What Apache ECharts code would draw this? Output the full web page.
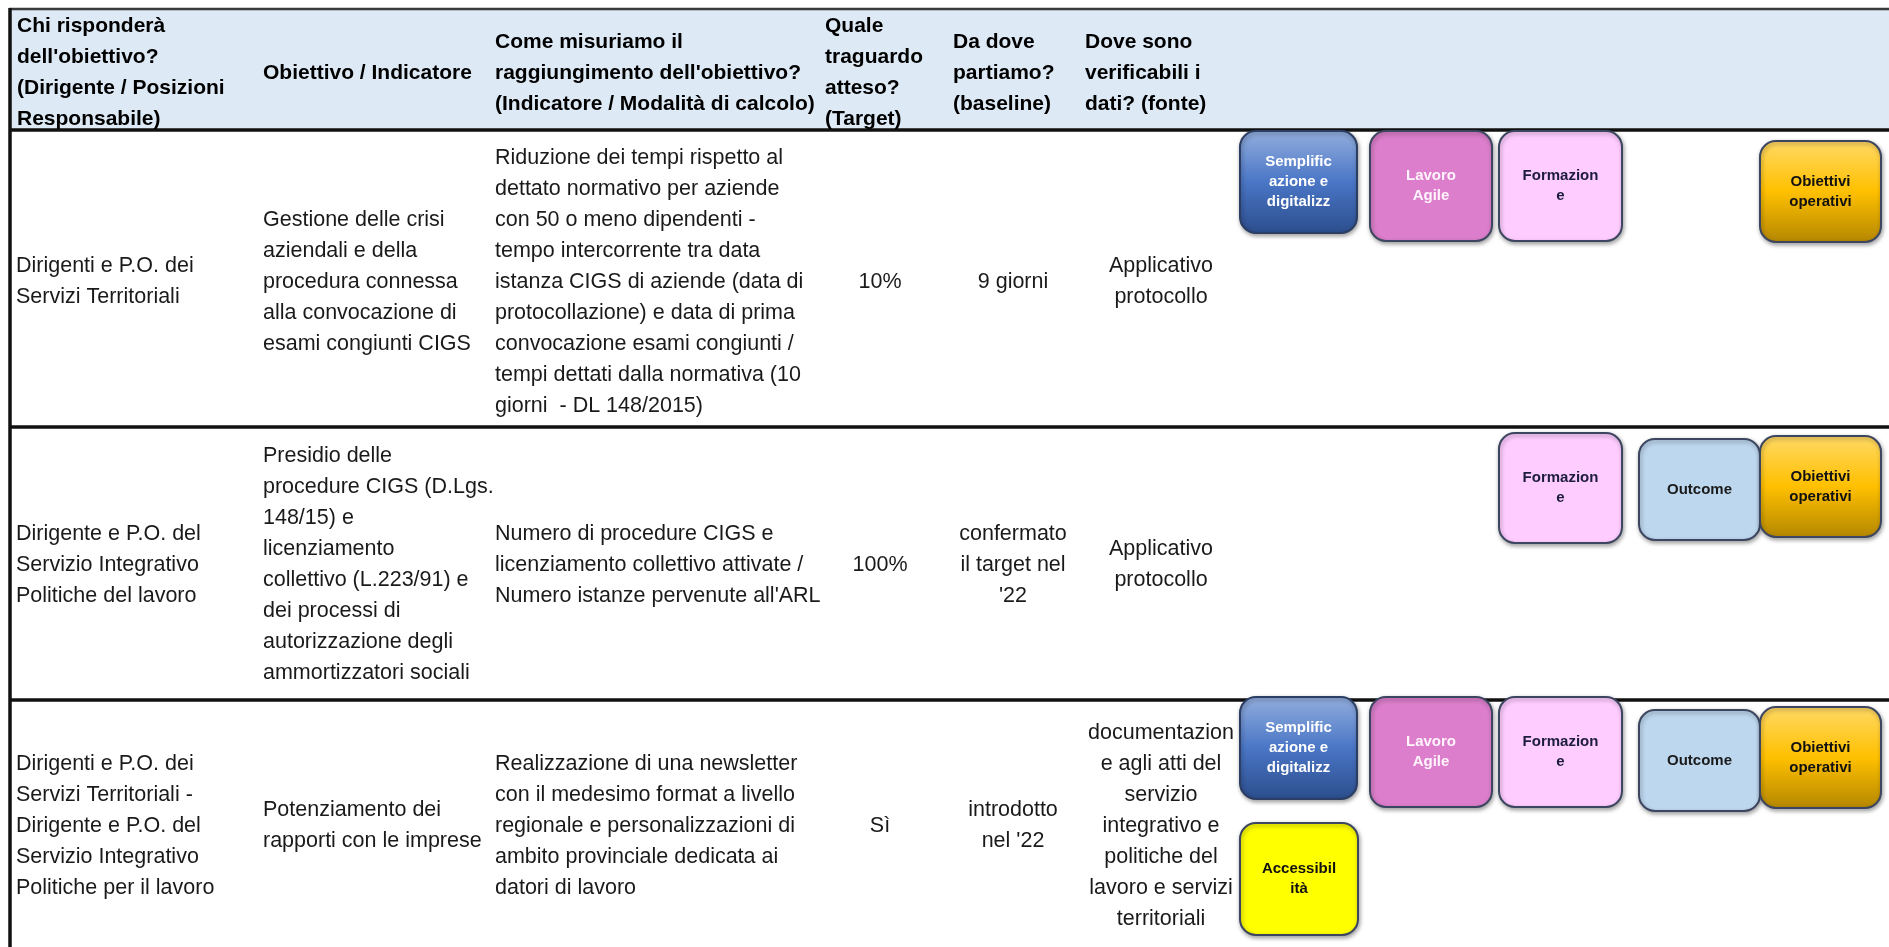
<!DOCTYPE html>
<html>
<head>
<meta charset="utf-8">
<script src="https://cdn.jsdelivr.net/npm/echarts@6/dist/echarts.min.js"></script>
<style>html,body{margin:0;padding:0;background:#fff;overflow:hidden}#c{width:1889px;height:947px}</style>
</head>
<body>
<div id="c"></div>
<script>
// ---------- DATA ----------
const headers = [
  "Chi risponderà\ndell'obiettivo?\n(Dirigente / Posizioni\nResponsabile)",
  "Obiettivo / Indicatore",
  "Come misuriamo il\nraggiungimento dell'obiettivo?\n(Indicatore / Modalità di calcolo)",
  "Quale\ntraguardo\natteso?\n(Target)",
  "Da dove\npartiamo?\n(baseline)",
  "Dove sono\nverificabili i\ndati? (fonte)"
];
const responsabili = [
  "Dirigenti e P.O. dei\nServizi Territoriali",
  "Dirigente e P.O. del\nServizio Integrativo\nPolitiche del lavoro",
  "Dirigenti e P.O. dei\nServizi Territoriali -\nDirigente e P.O. del\nServizio Integrativo\nPolitiche per il lavoro"
];
const obiettivi = [
  "Gestione delle crisi\naziendali e della\nprocedura connessa\nalla convocazione di\nesami congiunti CIGS",
  "Presidio delle\nprocedure CIGS (D.Lgs.\n148/15) e\nlicenziamento\ncollettivo (L.223/91) e\ndei processi di\nautorizzazione degli\nammortizzatori sociali",
  "Potenziamento dei\nrapporti con le imprese"
];
const indicatori = [
  "Riduzione dei tempi rispetto al\ndettato normativo per aziende\ncon 50 o meno dipendenti -\ntempo intercorrente tra data\nistanza CIGS di aziende (data di\nprotocollazione) e data di prima\nconvocazione esami congiunti /\ntempi dettati dalla normativa (10\ngiorni  - DL 148/2015)",
  "Numero di procedure CIGS e\nlicenziamento collettivo attivate /\nNumero istanze pervenute all'ARL",
  "Realizzazione di una newsletter\ncon il medesimo format a livello\nregionale e personalizzazioni di\nambito provinciale dedicata ai\ndatori di lavoro"
];
const target = ["10%", "100%", "Sì"];
const baseline = ["9 giorni", "confermato\nil target nel\n'22", "introdotto\nnel '22"];
const fonte = [
  "Applicativo\nprotocollo",
  "Applicativo\nprotocollo",
  "documentazion\ne agli atti del\nservizio\nintegrativo e\npolitiche del\nlavoro e servizi\nterritoriali"
];
const tagNames = ["Semplificazione", "Lavoro Agile", "Formazione", "Outcome", "Obiettivi operativi", "Accessibilità"];
const tagLabels = ["Semplific\nazione e\ndigitalizz", "Lavoro\nAgile", "Formazion\ne", "Outcome", "Obiettivi\noperativi", "Accessibil\nità"];
const ambiti = [
  ["Semplificazione", "Lavoro Agile", "Formazione", "Obiettivi operativi"],
  ["Formazione", "Outcome", "Obiettivi operativi"],
  ["Semplificazione", "Lavoro Agile", "Formazione", "Outcome", "Obiettivi operativi", "Accessibilità"]
];

// ---------- LAYOUT / STYLE ----------
const W = 1889, H = 947;
const FONT = "'Liberation Sans', Arial, sans-serif";
const L = {
  left: 10,
  rowEdges: [9, 130, 427, 700, 947],
  rowCenters: [73, 282, 565, 826],
  headerX: [17, 263, 495, 825, 953, 1085],
  bodyX: [12, 263, 495, 880, 1013, 1161],
  bodyAlign: ['left', 'left', 'left', 'center', 'center', 'center'],
  headFontSize: 21,
  bodyFontSize: 21.5,
  lineHeight: 31
};
const tagBox = {
  "Semplificazione": {x: 1240, w: 117, h: 102},
  "Lavoro Agile": {x: 1370, w: 122, h: 110},
  "Formazione": {x: 1499, w: 123, h: 110},
  "Outcome": {x: 1639, w: 121, h: 101},
  "Obiettivi operativi": {x: 1760, w: 121, h: 101},
  "Accessibilità": {x: 1240, w: 118, h: 112}
};
const tagTop = [
  {"Semplificazione": 131, "Lavoro Agile": 131, "Formazione": 131, "Obiettivi operativi": 141},
  {"Formazione": 433, "Outcome": 439, "Obiettivi operativi": 436},
  {"Semplificazione": 697, "Lavoro Agile": 697, "Formazione": 697, "Outcome": 710, "Obiettivi operativi": 707, "Accessibilità": 823}
];
function lin(stops) {
  return {type: 'linear', x: 0, y: 0, x2: 0, y2: 1, global: false,
    colorStops: stops.map(s => ({offset: s[0], color: s[1]}))};
}
const tagStyle = {
  "Semplificazione": {fill: lin([[0, '#93aedd'], [0.5, '#4a76c6'], [1, '#2b4d8c']]), text: '#ffffff', stroke: '#2c3e63'},
  "Lavoro Agile": {fill: '#dc7ecb', text: '#fff4fc', stroke: '#3d4660'},
  "Formazione": {fill: '#ffccff', text: '#1c1c3c', stroke: '#3d4660'},
  "Outcome": {fill: '#bdd7ee', text: '#1a1a1a', stroke: '#3d4660'},
  "Obiettivi operativi": {fill: lin([[0, '#ffd966'], [0.5, '#ffc000'], [1, '#b38600']]), text: '#111111', stroke: '#3d4660'},
  "Accessibilità": {fill: '#ffff00', text: '#111111', stroke: '#3d4660'}
};

// ---------- BUILD ----------
const columns = [responsabili, obiettivi, indicatori, target, baseline, fonte];
function cellText(r, c) { return r === 0 ? headers[c] : columns[c][r - 1]; }
const cellData = [];
for (let c = 0; c < headers.length; c++) cellData.push([0, c]);
for (let r = 0; r < responsabili.length; r++)
  for (let c = 0; c < columns.length; c++) cellData.push([r + 1, c]);
const tagData = [];
ambiti.forEach((list, r) => list.forEach(n => tagData.push([r, tagNames.indexOf(n)])));

const chart = echarts.init(document.getElementById('c'), null, {renderer: 'canvas', width: W, height: H});
chart.setOption({
  animation: false,
  backgroundColor: '#ffffff',
  grid: {left: 0, right: 0, top: 0, bottom: 0},
  xAxis: {type: 'value', min: 0, max: W, show: false},
  yAxis: {type: 'value', min: 0, max: H, inverse: true, show: false},
  series: [
    {
      type: 'custom', z: 1, silent: true,
      data: [[0, 0]],
      renderItem(params, api) {
        const e = L.rowEdges;
        const a = api.coord([L.left, e[0]]), b = api.coord([W, e[1]]);
        const children = [{type: 'rect', shape: {x: a[0], y: a[1], width: b[0] - a[0], height: b[1] - a[1]},
          style: {fill: '#dde9f5'}}];
        e.slice(0, 4).forEach((y, i) => {
          const p = api.coord([L.left - 1, y]), q = api.coord([W, y]);
          children.push({type: 'line', shape: {x1: p[0], y1: p[1], x2: q[0], y2: q[1]},
            style: {stroke: i === 0 ? '#3a3a3a' : '#111111', lineWidth: i === 0 ? 2.5 : 3.5}});
        });
        const l1 = api.coord([L.left, e[0] - 1]), l2 = api.coord([L.left, H]);
        children.push({type: 'line', shape: {x1: l1[0], y1: l1[1], x2: l2[0], y2: l2[1]},
          style: {stroke: '#111111', lineWidth: 3.5}});
        return {type: 'group', children};
      }
    },
    {
      type: 'custom', z: 2, silent: true,
      data: cellData,
      renderItem(params, api) {
        const r = api.value(0), c = api.value(1);
        const head = r === 0;
        const p = api.coord([head ? L.headerX[c] : L.bodyX[c] + (c === 0 ? 4 : 0), L.rowCenters[r]]);
        return {type: 'text', x: p[0], y: p[1], style: {
          text: cellText(r, c), fill: head ? '#000000' : '#1a1a1a',
          fontSize: head ? L.headFontSize : L.bodyFontSize, fontFamily: FONT, fontWeight: head ? 'bold' : 'normal',
          lineHeight: L.lineHeight, align: head ? 'left' : L.bodyAlign[c], verticalAlign: 'middle'
        }};
      }
    },
    {
      type: 'custom', z: 3, silent: true,
      data: tagData,
      renderItem(params, api) {
        const r = api.value(0), k = api.value(1);
        const name = tagNames[k];
        const b = tagBox[name], top = tagTop[r][name], st = tagStyle[name];
        const p0 = api.coord([b.x, top]), p1 = api.coord([b.x + b.w, top + b.h]);
        return {type: 'group', children: [
          {type: 'rect', shape: {x: p0[0], y: p0[1], width: p1[0] - p0[0], height: p1[1] - p0[1], r: 16},
            style: {fill: st.fill, stroke: st.stroke, lineWidth: 2,
              shadowBlur: 4, shadowColor: 'rgba(0,0,0,0.35)', shadowOffsetX: 1, shadowOffsetY: 2}},
          {type: 'text', x: (p0[0] + p1[0]) / 2, y: (p0[1] + p1[1]) / 2, style: {
            text: tagLabels[k], fill: st.text, fontSize: 15, fontWeight: 'bold', fontFamily: FONT,
            lineHeight: 20, align: 'center', verticalAlign: 'middle'}}
        ]};
      }
    }
  ]
});
</script>
</body>
</html>
